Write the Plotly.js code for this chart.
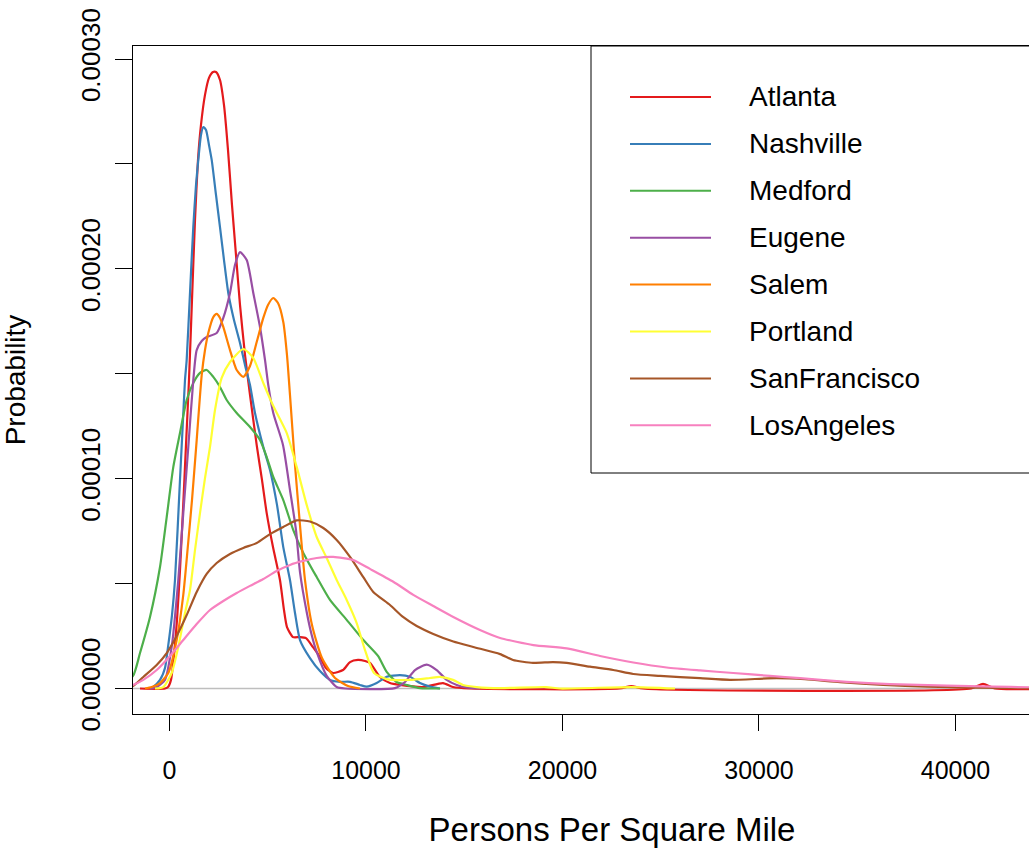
<!DOCTYPE html>
<html><head><meta charset="utf-8">
<script src="https://cdn.plot.ly/plotly-3.0.1.min.js"></script>
<style>html,body{margin:0;padding:0;overflow:hidden;background:#fff;width:1029px;height:850px}#chart{width:1091px;height:850px}</style>
</head><body><div id="chart"></div>
<script>
// Series names and colours (RColorBrewer Set1)
const cities = ["Atlanta", "Nashville", "Medford", "Eugene", "Salem", "Portland", "SanFrancisco", "LosAngeles"];
const colors = ["#E41A1C", "#377EB8", "#4DAF4A", "#984EA3", "#FF7F00", "#FFFF33", "#A65628", "#F781BF"];

// Density estimates (x = persons per sq. mile, y = density)
const atlantaX = [-1500, -229, -76, 76, 229, 382, 534, 687, 840, 992, 1145, 1298, 1450, 1603, 1807, 2010, 2214, 2366, 2570, 2774, 2977, 3181, 3384, 3588, 3842, 4097, 4438, 4707, 4947, 5267, 5623, 5827, 5980, 6285, 6641, 6947, 7303, 7659, 7964, 8321, 8830, 9186, 9593, 9949, 10203, 10712, 11221, 11730, 12901, 13918, 14427, 15292, 22900, 23500, 24100, 40800, 41400, 42000, 45000];
const atlantaY = [0, 0, 0.07e-5, 0.41e-5, 1.60e-5, 3.26e-5, 5.64e-5, 8.51e-5, 11.61e-5, 14.70e-5, 18.52e-5, 22.33e-5, 25.19e-5, 26.86e-5, 28.29e-5, 29.10e-5, 29.38e-5, 29.38e-5, 29.00e-5, 27.80e-5, 25.67e-5, 23.04e-5, 20.66e-5, 18.28e-5, 15.90e-5, 14.00e-5, 11.60e-5, 9.94e-5, 8.36e-5, 6.74e-5, 5.17e-5, 3.74e-5, 2.93e-5, 2.45e-5, 2.45e-5, 2.40e-5, 1.97e-5, 1.50e-5, 0.98e-5, 0.74e-5, 0.88e-5, 1.26e-5, 1.36e-5, 1.31e-5, 1.22e-5, 0.55e-5, 0.26e-5, 0.17e-5, 0.07e-5, 0.26e-5, 0.07e-5, 0, 0, 0.12e-5, 0, 0, 0.22e-5, 0, 0];

const nashvilleX = [-992, -840, -483, -229, -76, 127, 280, 534, 687, 789, 875, 1043, 1211, 1349, 1466, 1603, 1720, 1858, 2010, 2148, 2367, 2570, 2774, 2992, 3282, 3588, 3842, 4097, 4351, 4774, 5115, 5471, 5791, 6132, 6387, 6641, 7150, 7659, 8168, 8677, 9186, 9695, 10036, 10544, 11053, 11730, 12239, 12748, 13257, 13766];
const nashvilleY = [0, 0.07e-5, 0.41e-5, 0.98e-5, 1.97e-5, 3.50e-5, 5.17e-5, 9.94e-5, 12.80e-5, 14.70e-5, 15.66e-5, 18.85e-5, 21.99e-5, 23.99e-5, 25.19e-5, 26.38e-5, 26.76e-5, 26.62e-5, 25.90e-5, 25.19e-5, 23.52e-5, 21.99e-5, 20.42e-5, 18.85e-5, 17.56e-5, 16.47e-5, 15.42e-5, 14.46e-5, 13.13e-5, 11.51e-5, 10.41e-5, 8.75e-5, 6.74e-5, 5.17e-5, 3.60e-5, 2.31e-5, 1.45e-5, 0.83e-5, 0.41e-5, 0.32e-5, 0.32e-5, 0.17e-5, 0.09e-5, 0.26e-5, 0.56e-5, 0.64e-5, 0.56e-5, 0.26e-5, 0.09e-5, 0];

const medfordX = [-2500, -1857, -1501, -992, -483, -142, 193, 534, 875, 1211, 1552, 1893, 2229, 2570, 2911, 3420, 4097, 4605, 4947, 5282, 5791, 6300, 6809, 7491, 8168, 9018, 9863, 10611, 11053, 11562, 12071, 12748, 13766];
const medfordY = [0.2e-5, 0.60e-5, 1.69e-5, 3.41e-5, 5.79e-5, 8.17e-5, 10.55e-5, 12.18e-5, 13.75e-5, 14.56e-5, 15.04e-5, 15.18e-5, 14.85e-5, 14.37e-5, 13.75e-5, 13.13e-5, 12.46e-5, 11.84e-5, 11.03e-5, 10.08e-5, 8.98e-5, 7.55e-5, 6.46e-5, 5.31e-5, 4.22e-5, 3.27e-5, 2.31e-5, 1.55e-5, 0.79e-5, 0.31e-5, 0.17e-5, 0.02e-5, 0];

const eugeneX = [-992, -651, -229, 112, 448, 702, 957, 1211, 1384, 1639, 1893, 2402, 2738, 3079, 3333, 3588, 3929, 4265, 4605, 4860, 5028, 5282, 5776, 6132, 6438, 6641, 6982, 7237, 7491, 8000, 8509, 8932, 11476, 11985, 12494, 13089, 13598, 14107, 14616, 15125, 15801];
const eugeneY = [0, 0.07e-5, 0.41e-5, 1.98e-5, 5.17e-5, 8.36e-5, 11.51e-5, 14.70e-5, 16.13e-5, 16.56e-5, 16.75e-5, 16.94e-5, 17.66e-5, 18.85e-5, 20.18e-5, 20.80e-5, 20.42e-5, 18.85e-5, 17.23e-5, 15.66e-5, 14.46e-5, 13.13e-5, 11.61e-5, 9.46e-5, 7.55e-5, 5.55e-5, 3.65e-5, 2.55e-5, 1.74e-5, 0.60e-5, 0.07e-5, 0, 0.02e-5, 0.31e-5, 0.88e-5, 1.14e-5, 0.88e-5, 0.41e-5, 0.17e-5, 0.05e-5, 0];

const salemX = [-1247, -906, -483, -61, 366, 702, 941, 1145, 1384, 1639, 1807, 1975, 2229, 2402, 2570, 2738, 3079, 3420, 3756, 4097, 4438, 4774, 5013, 5282, 5522, 5791, 5980, 6132, 6387, 6641, 6896, 7252, 7761, 8423, 9084, 9695];
const salemY = [0, 0.07e-5, 0.26e-5, 0.74e-5, 2.31e-5, 4.46e-5, 6.84e-5, 8.98e-5, 11.84e-5, 14.94e-5, 16.13e-5, 16.94e-5, 17.70e-5, 17.85e-5, 17.66e-5, 17.23e-5, 16.13e-5, 15.18e-5, 14.85e-5, 15.37e-5, 16.51e-5, 17.66e-5, 18.28e-5, 18.61e-5, 18.37e-5, 17.47e-5, 15.89e-5, 13.99e-5, 10.65e-5, 7.79e-5, 5.17e-5, 3.03e-5, 1.45e-5, 0.50e-5, 0.12e-5, 0];

const portlandX = [-738, -316, 112, 448, 789, 1043, 1298, 1552, 1807, 2061, 2316, 2656, 3079, 3756, 4265, 4774, 5282, 5964, 6473, 6982, 7491, 8000, 8509, 9018, 9527, 9949, 10407, 11053, 12239, 13257, 13766, 14427, 14936, 15633, 16824, 19160, 19873, 23537, 25725];
const portlandY = [0, 0.07e-5, 0.74e-5, 1.98e-5, 3.60e-5, 4.69e-5, 6.60e-5, 8.36e-5, 10.03e-5, 11.51e-5, 13.27e-5, 14.80e-5, 15.56e-5, 16.18e-5, 15.75e-5, 14.56e-5, 13.46e-5, 12.18e-5, 10.56e-5, 8.75e-5, 7.22e-5, 6.22e-5, 5.17e-5, 4.22e-5, 3.12e-5, 1.83e-5, 0.74e-5, 0.45e-5, 0.41e-5, 0.50e-5, 0.55e-5, 0.41e-5, 0.17e-5, 0.07e-5, 0.02e-5, 0.07e-5, 0, 0.07e-5, 0];

const sanFranciscoX = [-2500, -1857, -1333, -651, -142, 366, 875, 1384, 1893, 2402, 3079, 3756, 4438, 5115, 5791, 6473, 7150, 7827, 8509, 9186, 9863, 10371, 11221, 11883, 12580, 13425, 14443, 15460, 16824, 17481, 18499, 19517, 20214, 21400, 22586, 23603, 24962, 26998, 28524, 30900, 32341, 34122, 36326, 38535, 41079, 43740, 45000];
const sanFranciscoY = [0.03e-5, 0.12e-5, 0.55e-5, 1.12e-5, 1.69e-5, 2.50e-5, 3.50e-5, 4.60e-5, 5.46e-5, 5.98e-5, 6.41e-5, 6.70e-5, 6.93e-5, 7.36e-5, 7.70e-5, 8.01e-5, 7.96e-5, 7.65e-5, 7.08e-5, 6.27e-5, 5.31e-5, 4.60e-5, 3.98e-5, 3.41e-5, 2.98e-5, 2.60e-5, 2.24e-5, 1.98e-5, 1.64e-5, 1.36e-5, 1.22e-5, 1.26e-5, 1.22e-5, 1.04e-5, 0.88e-5, 0.69e-5, 0.60e-5, 0.49e-5, 0.41e-5, 0.49e-5, 0.44e-5, 0.30e-5, 0.17e-5, 0.09e-5, 0.04e-5, 0.02e-5, 0];

const losAngelesX = [-2500, -1857, -1333, -651, 25, 702, 1384, 2061, 2738, 3420, 4097, 4774, 5455, 6132, 6809, 7491, 8336, 9354, 10203, 11389, 12407, 13425, 14443, 15801, 16824, 18514, 20214, 21909, 23603, 25303, 26998, 28692, 30560, 32087, 34463, 36667, 39552, 41923, 43740, 45000];
const losAngelesY = [0.05e-5, 0.17e-5, 0.41e-5, 0.88e-5, 1.55e-5, 2.31e-5, 3.07e-5, 3.74e-5, 4.17e-5, 4.55e-5, 4.89e-5, 5.22e-5, 5.60e-5, 5.89e-5, 6.08e-5, 6.22e-5, 6.27e-5, 6.12e-5, 5.70e-5, 5.09e-5, 4.46e-5, 3.93e-5, 3.41e-5, 2.79e-5, 2.41e-5, 2.07e-5, 1.91e-5, 1.55e-5, 1.24e-5, 1.00e-5, 0.86e-5, 0.74e-5, 0.60e-5, 0.49e-5, 0.32e-5, 0.21e-5, 0.14e-5, 0.09e-5, 0.06e-5, 0.04e-5];

// Axis ticks
const xTickVals = [0, 10000, 20000, 30000, 40000];
const xTickText = ["0", "10000", "20000", "30000", "40000"];
const yTickVals = [0, 0.00005, 0.0001, 0.00015, 0.0002, 0.00025, 0.0003];
const yTickText = ["0.00000", "", "0.00010", "", "0.00020", "", "0.00030"];

const seriesX = [atlantaX, nashvilleX, medfordX, eugeneX, salemX, portlandX, sanFranciscoX, losAngelesX];
const seriesY = [atlantaY, nashvilleY, medfordY, eugeneY, salemY, portlandY, sanFranciscoY, losAngelesY];

const FONT = '"Liberation Sans", Arial, Helvetica, sans-serif';
const NARROW = '"Liberation Sans Narrow", "Arial Narrow", "Liberation Sans", Arial, sans-serif';
const W = 1091, H = 850, ML = 133, MR = 0, MT = 46, MB = 136;
const plotW = W - ML - MR, plotH = H - MT - MB;
const pxX = p => (p - ML) / plotW;
const pxY = p => (H - MB - p) / plotH;

const traces = cities.map((name, i) => ({
  type: 'scatter', mode: 'lines', name: name,
  x: seriesX[i], y: seriesY[i],
  line: {color: colors[i], width: 2.2, shape: 'spline', smoothing: 0.6},
  showlegend: false, hoverinfo: 'skip'
}));

// Legend drawn R-style (box, key lines, labels)
const shapes = [
  {type: 'line', xref: 'paper', yref: 'y', x0: 0, x1: 1, y0: 0, y1: 0, layer: 'below', line: {color: '#BEBEBE', width: 1.5}},
  {type: 'rect', xref: 'paper', yref: 'paper', x0: pxX(591), x1: 1, y0: pxY(473), y1: 1, line: {color: '#000', width: 1}, fillcolor: 'rgba(0,0,0,0)'}
];
const annotations = [];
cities.forEach((name, i) => {
  const yy = pxY(97 + 46.9 * i);
  shapes.push({type: 'line', xref: 'paper', yref: 'paper', x0: pxX(630), x1: pxX(711), y0: yy, y1: yy, line: {color: colors[i], width: 2}});
  annotations.push({xref: 'paper', yref: 'paper', x: pxX(747), y: yy, xanchor: 'left', yanchor: 'middle', text: name, showarrow: false, font: {family: FONT, size: 28, color: '#000'}});
});

const layout = {
  width: W, height: H,
  margin: {l: ML, r: MR, t: MT, b: MB, pad: 0},
  paper_bgcolor: '#fff', plot_bgcolor: '#fff',
  font: {family: FONT, color: '#000'},
  showlegend: false,
  xaxis: {
    range: [-1857, 46896], tickvals: xTickVals, ticktext: xTickText,
    ticks: 'outside', ticklen: 16, tickwidth: 1, tickcolor: '#000',
    showline: true, linecolor: '#000', linewidth: 1, mirror: true,
    showgrid: false, zeroline: false, automargin: false,
    tickfont: {family: NARROW, size: 25, color: '#000'}, ticklabelstandoff: 18,
    title: {text: 'Persons Per Square Mile', font: {family: FONT, size: 33, color: '#000'}, standoff: 34}
  },
  yaxis: {
    range: [-1.215e-5, 30.62e-5], tickvals: yTickVals, ticktext: yTickText, tickangle: -90,
    ticks: 'outside', ticklen: 17, tickwidth: 1, tickcolor: '#000',
    showline: true, linecolor: '#000', linewidth: 1, mirror: true,
    showgrid: false, zeroline: false, automargin: false,
    tickfont: {family: NARROW, size: 26, color: '#000'}, ticklabelstandoff: 5,
    title: {text: 'Probability', font: {family: FONT, size: 28, color: '#000'}, standoff: 46}
  },
  shapes: shapes,
  annotations: annotations
};

Plotly.newPlot('chart', traces, layout, {staticPlot: true, displayModeBar: false});
</script>
</body></html>
